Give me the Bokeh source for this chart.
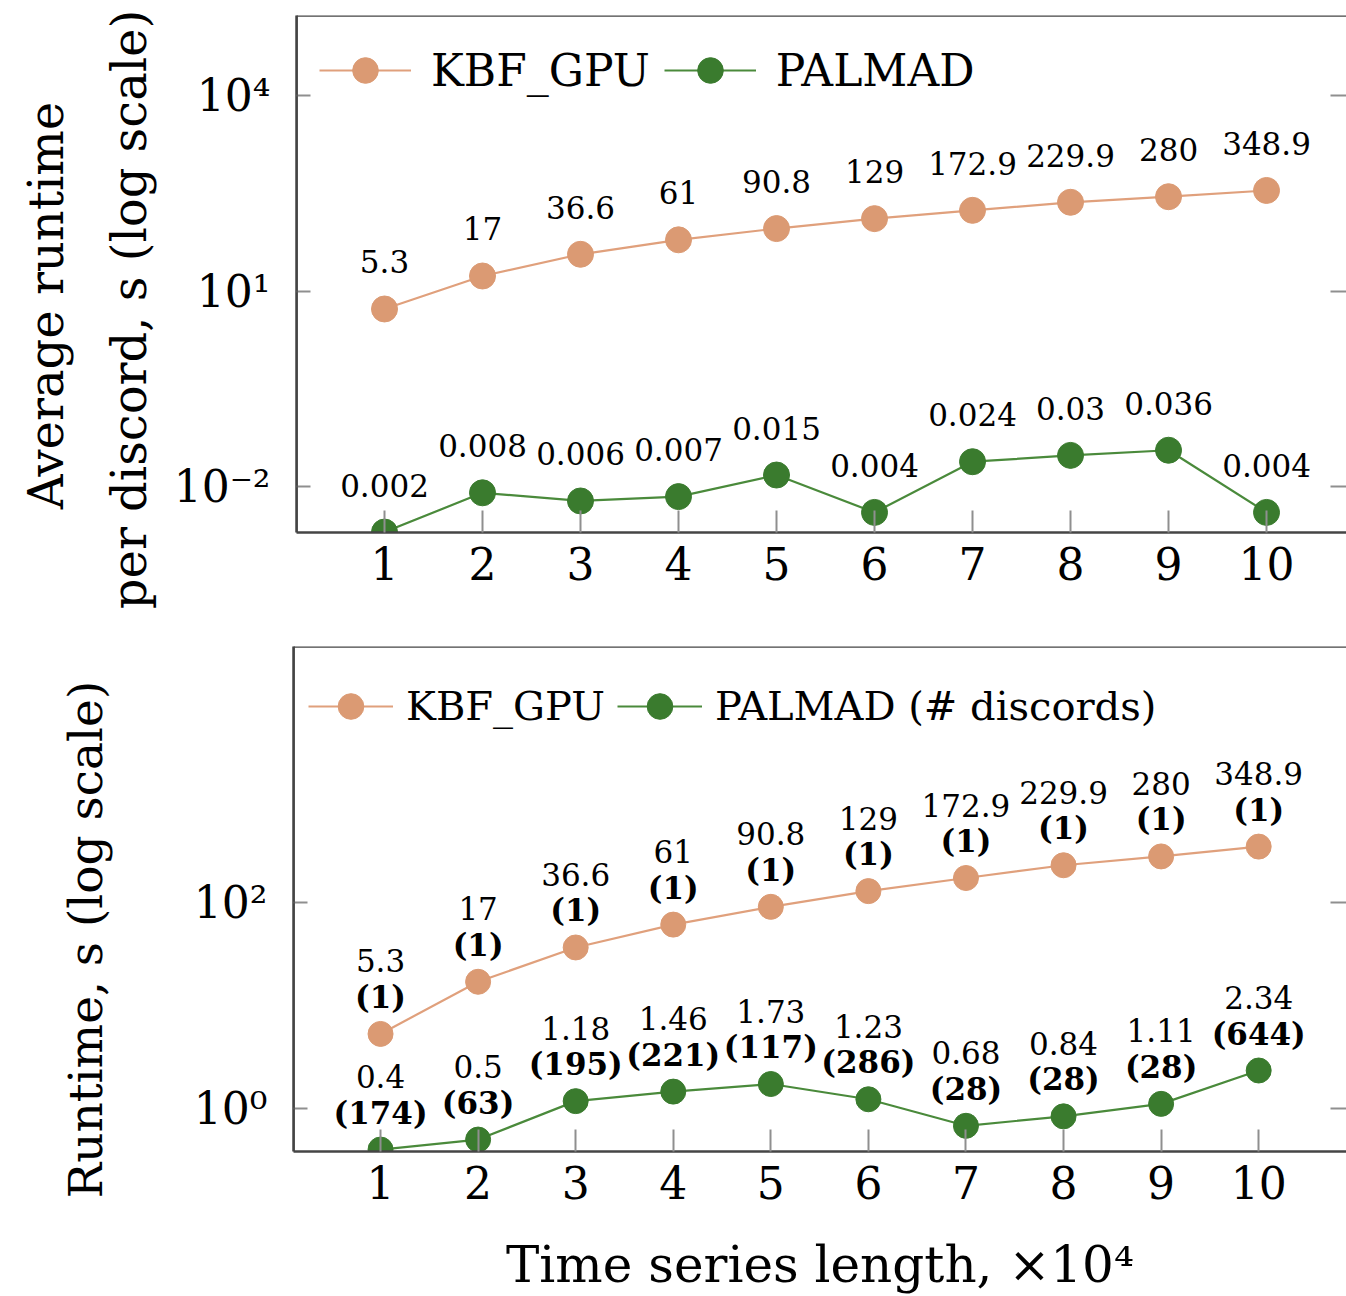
import math
from bokeh.plotting import figure
from bokeh.models import (FixedTicker, LogAxis, Legend, Span,
                          LegendItem, Range1d, ColumnDataSource)
from bokeh.layouts import column, row
from bokeh.embed import file_html
from bokeh.resources import INLINE
from bokeh.core.properties import value

# ---------------- data ----------------
lengths = [1, 2, 3, 4, 5, 6, 7, 8, 9, 10]            # x 10^4
kbf_runtime = [5.3, 17, 36.6, 61, 90.8, 129, 172.9, 229.9, 280, 348.9]
palmad_avg_per_discord = [0.002, 0.008, 0.006, 0.007, 0.015, 0.004, 0.024, 0.03, 0.036, 0.004]
palmad_runtime = [0.4, 0.5, 1.18, 1.46, 1.73, 1.23, 0.68, 0.84, 1.11, 2.34]
palmad_discords = [174, 63, 195, 221, 117, 286, 28, 28, 28, 644]
kbf_discords = [1, 1, 1, 1, 1, 1, 1, 1, 1, 1]

top_yticks = [1e-2, 1e1, 1e4]
top_ylabels = {1e-2: "10\u207b\u00b2", 1e1: "10\u00b9", 1e4: "10\u2074"}
bot_yticks = [1e0, 1e2]
bot_ylabels = {1e0: "10\u2070", 1e2: "10\u00b2"}

KBF_C = "#DB9A73"
KBF_L = "#E0A07C"
PAL_C = "#3A7B2E"
PAL_L = "#4A8A3B"
FONT = "DejaVu Serif"
AXC = "#454545"
TICKC = "#8f8f8f"

LABEL_W = 170   # width of the strip that holds the rotated y titles
TOP_H = 615
BOT_H = 681


def fmt(v):
    return f"{v:g}"


def no_align(f):
    if "frame_align" in f.properties():
        f.frame_align = False


def base_fig(height, xr, yr, left, top, bottom, yticks, ylabels, label_standoff=26):
    p = figure(width=1346 - LABEL_W, height=height, y_axis_type="log",
               x_range=Range1d(*xr), y_range=Range1d(*yr),
               output_backend="svg", toolbar_location=None,
               min_border_left=left, min_border_right=0,
               min_border_top=top, min_border_bottom=bottom)
    no_align(p)
    p.outline_line_color = None
    p.grid.visible = False
    p.background_fill_color = "white"
    p.border_fill_color = "white"

    xa = p.xaxis[0]
    xa.ticker = FixedTicker(ticks=lengths, minor_ticks=[])
    xa.major_tick_in = 22
    xa.major_tick_out = 0
    xa.major_tick_line_color = TICKC
    xa.major_tick_line_width = 2
    xa.minor_tick_line_color = None
    xa.axis_line_color = AXC
    xa.axis_line_width = 2.5
    xa.major_label_text_font = FONT
    xa.major_label_text_font_size = "44px"
    xa.major_label_text_color = "black"
    xa.major_label_standoff = 14

    ya = p.yaxis[0]
    ya.ticker = FixedTicker(ticks=yticks, minor_ticks=[])
    ya.major_label_overrides = ylabels
    ya.major_tick_in = 14
    ya.major_tick_out = 0
    ya.major_tick_line_color = TICKC
    ya.major_tick_line_width = 2
    ya.minor_tick_line_color = None
    ya.axis_line_color = AXC
    ya.axis_line_width = 2.5
    ya.major_label_text_font = FONT
    ya.major_label_text_font_size = "44px"
    ya.major_label_text_color = "black"
    ya.major_label_standoff = label_standoff

    ra = LogAxis(ticker=FixedTicker(ticks=yticks, minor_ticks=[]),
                 axis_line_color=None, major_tick_in=16, major_tick_out=0,
                 major_tick_line_color=TICKC, major_tick_line_width=2,
                 minor_tick_line_color=None, major_label_text_font_size="2px",
                 major_label_text_alpha=0, major_label_standoff=0)
    p.add_layout(ra, "right")
    return p


def frame_lines(p, xr, yr):
    p.add_layout(Span(location=yr[1], dimension="width", line_color=AXC,
                      line_width=2.5, level="overlay"))
    p.add_layout(Span(location=xr[0], dimension="height", line_color=AXC,
                      line_width=2.5, level="overlay"))


def make_legend(items, padding, label_height, glyph_width, standoff, spacing, fsize):
    return Legend(items=items, orientation="horizontal", location="top_left",
                  margin=0, padding=padding, spacing=spacing,
                  label_standoff=standoff, glyph_width=glyph_width,
                  glyph_height=64, label_height=label_height,
                  label_text_font=FONT, label_text_font_size=fsize,
                  label_text_color="black",
                  border_line_color="white", border_line_width=1,
                  border_line_alpha=0.0,
                  background_fill_color="white", background_fill_alpha=0.0)


def title_strip(height, texts, xs, ys, fsize):
    """A narrow axis-less figure holding rotated y-axis titles (pixel coords)."""
    f = figure(width=LABEL_W, height=height, x_range=Range1d(0, LABEL_W),
               y_range=Range1d(0, height), output_backend="svg",
               toolbar_location=None, min_border=0,
               x_axis_location=None, y_axis_location=None)
    no_align(f)
    f.grid.visible = False
    f.outline_line_color = None
    f.background_fill_color = "white"
    f.border_fill_color = "white"
    src = ColumnDataSource(dict(x=xs, y=ys, t=texts))
    f.text("x", "y", text="t", source=src, angle=math.pi / 2,
           text_align="center", text_baseline="middle",
           text_font=value(FONT), text_font_size=fsize, text_color="black")
    return f


# ---------------- top figure ----------------
XR1 = (0.102, 10.816)
YR1 = (10 ** -2.706, 10 ** 5.228)
p1 = base_fig(TOP_H, XR1, YR1, 296 - LABEL_W, 15, 83, top_yticks, top_ylabels)

src1 = ColumnDataSource(dict(
    x=lengths, kbf=kbf_runtime, pal=palmad_avg_per_discord,
    kbf_t=[fmt(v) for v in kbf_runtime],
    pal_t=[fmt(v) for v in palmad_avg_per_discord]))

l1 = p1.line("x", "kbf", source=src1, line_color=KBF_L, line_width=2.2)
s1 = p1.scatter("x", "kbf", source=src1, size=26, fill_color=KBF_C, line_color=KBF_C)
l2 = p1.line("x", "pal", source=src1, line_color=PAL_L, line_width=2.2)
s2 = p1.scatter("x", "pal", source=src1, size=26, fill_color=PAL_C, line_color=PAL_C)

for col, ycol in (("kbf_t", "kbf"), ("pal_t", "pal")):
    p1.text("x", ycol, text=col, source=src1, y_offset=-47,
            text_align="center", text_baseline="middle",
            text_font=value(FONT), text_font_size="31px", text_color="black")

p1.add_layout(make_legend([LegendItem(label="KBF_GPU", renderers=[l1, s1]),
                           LegendItem(label="PALMAD", renderers=[l2, s2])],
                          23, 44, 92, 20, 14, "44px"))
frame_lines(p1, XR1, YR1)

t1 = title_strip(TOP_H, ["Average runtime", "per discord, s (log scale)"],
                 [45, 128], [TOP_H - 305, TOP_H - 309], "48px")

# ---------------- bottom figure ----------------
XR2 = (0.108, 10.90)
YR2 = (10 ** -0.417, 10 ** 4.485)
p2 = base_fig(BOT_H, XR2, YR2, 293 - LABEL_W, 31, 145, bot_yticks, bot_ylabels)
xa2 = p2.xaxis[0]
xa2.axis_label = "Time series length, \u00d710\u2074"
xa2.axis_label_text_font = FONT
xa2.axis_label_text_font_size = "50px"
xa2.axis_label_text_font_style = "normal"
xa2.axis_label_text_color = "black"
xa2.axis_label_standoff = 34

src2 = ColumnDataSource(dict(
    x=lengths, kbf=kbf_runtime, pal=palmad_runtime,
    kbf_t=[fmt(v) for v in kbf_runtime],
    kbf_n=[f"({n})" for n in kbf_discords],
    pal_t=[fmt(v) for v in palmad_runtime],
    pal_n=[f"({n})" for n in palmad_discords]))

l3 = p2.line("x", "kbf", source=src2, line_color=KBF_L, line_width=2.2)
s3 = p2.scatter("x", "kbf", source=src2, size=25, fill_color=KBF_C, line_color=KBF_C)
l4 = p2.line("x", "pal", source=src2, line_color=PAL_L, line_width=2.2)
s4 = p2.scatter("x", "pal", source=src2, size=25, fill_color=PAL_C, line_color=PAL_C)

for tcol, ncol, ycol in (("kbf_t", "kbf_n", "kbf"), ("pal_t", "pal_n", "pal")):
    p2.text("x", ycol, text=tcol, source=src2, y_offset=-73,
            text_align="center", text_baseline="middle",
            text_font=value(FONT), text_font_size="31px", text_color="black")
    p2.text("x", ycol, text=ncol, source=src2, y_offset=-37,
            text_align="center", text_baseline="middle",
            text_font=value(FONT), text_font_size="31px", text_font_style="bold",
            text_color="black")

p2.add_layout(make_legend([LegendItem(label="KBF_GPU", renderers=[l3, s3]),
                           LegendItem(label="PALMAD (# discords)", renderers=[l4, s4])],
                          15, 90, 85, 13, 12, "40px"))
frame_lines(p2, XR2, YR2)

t2 = title_strip(BOT_H, ["Runtime, s (log scale)"], [85], [BOT_H - 324], "47px")

layout = column(row(t1, p1, spacing=0), row(t2, p2, spacing=0), spacing=0)
open("out.html", "w").write(file_html(layout, INLINE))
